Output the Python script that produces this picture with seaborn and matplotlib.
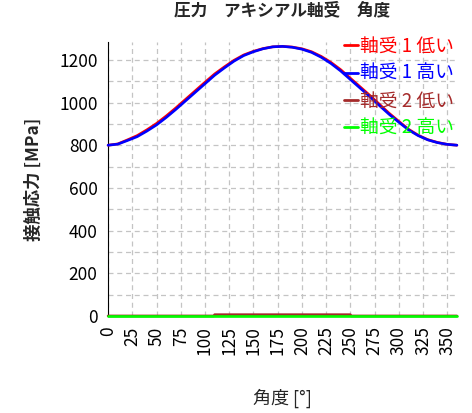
import matplotlib
matplotlib.use("Agg")
import matplotlib.pyplot as plt
import seaborn as sns
import pandas as pd
from matplotlib.ticker import MultipleLocator

sns.set_style("white")
plt.rcParams['font.family'] = ['Noto Sans CJK JP', 'DejaVu Sans']

angles = [0, 10, 20, 30, 40, 50, 60, 70, 80, 90, 100, 110, 120, 130, 140, 150, 160, 170, 180,
          190, 200, 210, 220, 230, 240, 250, 260, 270, 280, 290, 300, 310, 320, 330, 340, 350, 360]
b1_high = [800, 805, 822, 840, 866, 895, 930, 968, 1008, 1048, 1088, 1128, 1162, 1194, 1220, 1238, 1252, 1261, 1263,
           1259, 1250, 1235, 1212, 1183, 1148, 1108, 1068, 1028, 986, 945, 908, 872, 845, 825, 812, 804, 800]
b1_low = [800, 806, 825, 845, 872, 902, 937, 975, 1015, 1055, 1095, 1134, 1167, 1198, 1223, 1240, 1253, 1261, 1263,
          1260, 1252, 1238, 1216, 1188, 1154, 1114, 1074, 1034, 992, 950, 912, 875, 847, 826, 813, 804, 800]
b2_low_angles = [0, 109, 110, 250, 251, 360]
b2_low = [0, 0, 6, 6, 0, 0]
b2_high = [0] * len(angles)

labels = ["軸受 1 低い", "軸受 1 高い", "軸受 2 低い", "軸受 2 高い"]
colors = ["#ff0000", "#0000ff", "#a52a2a", "#00ff00"]

series = [
    (angles, b1_low),
    (angles, b1_high),
    (b2_low_angles, b2_low),
    (angles, b2_high),
]

fig = plt.figure(figsize=(4.72, 4.13), dpi=100)
ax = fig.add_axes([0.229, 0.235, 0.739, 0.663])

for i, ((xs, ys), lab, col) in enumerate(zip(series, labels, colors)):
    df = pd.DataFrame({"angle": xs, "stress": ys})
    sns.lineplot(data=df, x="angle", y="stress", ax=ax, color=col, label=lab,
                 linewidth=1.9, clip_on=False, zorder=4 + i)

ax.set_xlim(0, 360)
ax.set_ylim(0, 1283)
ax.xaxis.set_major_locator(MultipleLocator(25))
ax.yaxis.set_major_locator(MultipleLocator(200))
ax.yaxis.set_minor_locator(MultipleLocator(100))
ax.grid(True, which='both', linestyle=(0, (4, 3)), color='#c4c4c4', linewidth=0.9)
ax.tick_params(axis='both', which='both', direction='inout', length=8, width=1, labelsize=12.5, colors='black')
ax.tick_params(axis='x', labelrotation=90)
for s in ['top', 'right']:
    ax.spines[s].set_visible(False)
ax.spines['left'].set_color('black')
ax.spines['bottom'].set_color('black')

ax.set_title("圧力　アキシアル軸受　角度", fontsize=12, fontweight='bold', pad=19)
ax.set_xlabel("角度 [°]", fontsize=13, labelpad=24)
ax.set_ylabel("接触応力 [MPa]", fontsize=12.5, fontweight='bold', labelpad=12)

leg = ax.legend(loc='upper right', frameon=False, handlelength=0.75, handletextpad=0.1,
                labelcolor='linecolor', fontsize=13.5, borderaxespad=0.0, labelspacing=0.33,
                bbox_to_anchor=(1.014, 1.05))
for h in leg.get_lines():
    h.set_linewidth(2)

fig.savefig("out.png", dpi=100)
